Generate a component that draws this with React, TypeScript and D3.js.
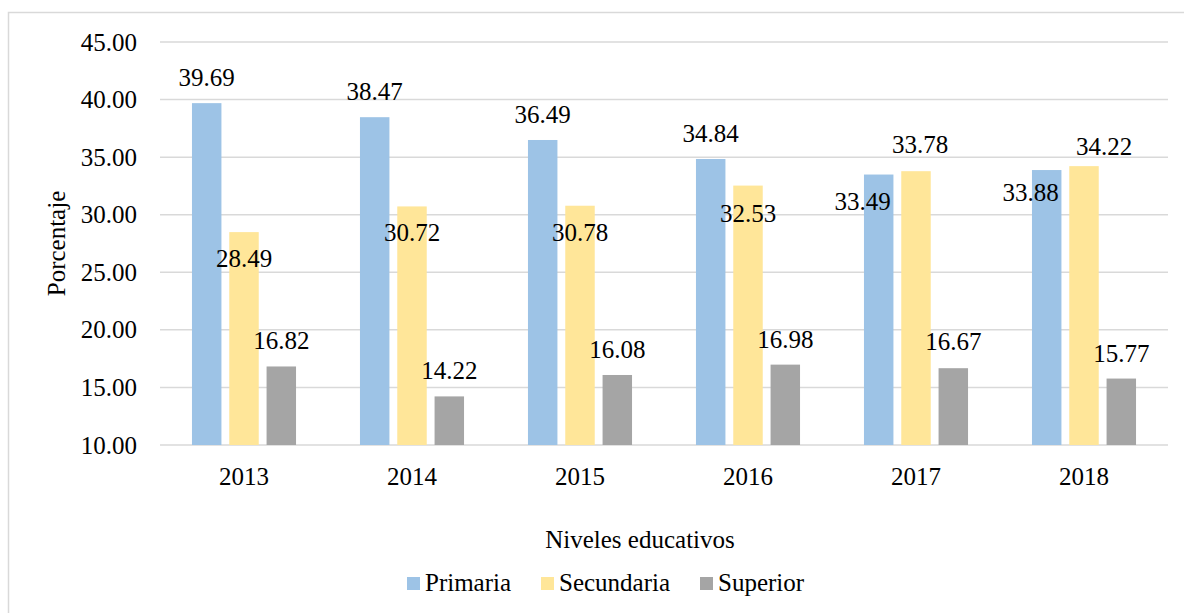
import * as d3 from 'd3';

const years = ['2013', '2014', '2015', '2016', '2017', '2018'];
const seriesNames = ['Primaria', 'Secundaria', 'Superior'];
const primaria = [39.69, 38.47, 36.49, 34.84, 33.49, 33.88];
const secundaria = [28.49, 30.72, 30.78, 32.53, 33.78, 34.22];
const superior = [16.82, 14.22, 16.08, 16.98, 16.67, 15.77];
const yTicks = [10, 15, 20, 25, 30, 35, 40, 45];

const colors = ['#9dc3e6', '#ffe699', '#a5a5a5'];

// label nudges (dx, dy from the bar top centre), placed by hand like the original
const labelNudge = [
  [[0, -17], [0, -17], [0, -17], [0, -17], [-16, 35], [-16, 31]],
  [[0, 35], [0, 35], [0, 35], [0, 36], [4, -18], [20, -11]],
  [[0, -17], [0, -17], [0, -17], [0, -17], [0, -18], [0, -17]],
];

export default function App() {
  const width = 1184;
  const height = 613;
  const margin = { top: 42, right: 16, bottom: 168, left: 160 };
  const font = "'Liberation Serif', 'Times New Roman', 'DejaVu Serif', serif";
  const data = [primaria, secundaria, superior];

  const x = d3.scaleBand().domain(years).range([margin.left, width - margin.right]);
  const xs = d3
    .scaleBand()
    .domain(seriesNames)
    .range([0, x.bandwidth()])
    .paddingInner(0.21)
    .paddingOuter(0.857);
  const y = d3
    .scaleLinear()
    .domain([10, 45])
    .range([height - margin.bottom, margin.top]);

  const legendX = [407, 541, 700];

  return (
    <svg
      width={width}
      height={height}
      style={{ position: 'absolute', left: 0, top: 0, background: '#fff', fontFamily: font }}
    >
      <rect x={8.5} y={12.5} width={1300} height={800} fill="#fff" stroke="#d9d9d9" strokeWidth={1.5} />

      {yTicks.map((t) => (
        <g key={t}>
          <line
            x1={margin.left}
            x2={width - margin.right}
            y1={y(t)}
            y2={y(t)}
            stroke="#d9d9d9"
            strokeWidth={1.5}
          />
          <text x={137} y={y(t)} dy="0.34em" textAnchor="end" fontSize={25} fill="#000">
            {t.toFixed(2)}
          </text>
        </g>
      ))}

      {data.map((vals, si) =>
        vals.map((v, i) => (
          <rect
            key={`${si}-${i}`}
            x={(x(years[i]) ?? 0) + (xs(seriesNames[si]) ?? 0)}
            y={y(v)}
            width={xs.bandwidth()}
            height={y(10) - y(v)}
            fill={colors[si]}
          />
        ))
      )}

      {data.map((vals, si) =>
        vals.map((v, i) => {
          const cx = (x(years[i]) ?? 0) + (xs(seriesNames[si]) ?? 0) + xs.bandwidth() / 2;
          const [dx, dy] = labelNudge[si][i];
          return (
            <text
              key={`l${si}-${i}`}
              x={cx + dx}
              y={y(v) + dy}
              textAnchor="middle"
              fontSize={25}
              fill="#000"
            >
              {v.toFixed(2)}
            </text>
          );
        })
      )}

      {years.map((yr) => (
        <text
          key={yr}
          x={(x(yr) ?? 0) + x.bandwidth() / 2}
          y={485}
          textAnchor="middle"
          fontSize={25}
          fill="#000"
        >
          {yr}
        </text>
      ))}

      <text
        transform={`translate(65, ${(y(10) + y(45)) / 2}) rotate(-90)`}
        textAnchor="middle"
        fontSize={25}
        fill="#000"
      >
        Porcentaje
      </text>

      <text x={640} y={548} textAnchor="middle" fontSize={25} fill="#000">
        Niveles educativos
      </text>

      {seriesNames.map((name, si) => (
        <g key={name}>
          <rect x={legendX[si]} y={577} width={13} height={13} fill={colors[si]} />
          <text x={legendX[si] + 18} y={591} fontSize={25} fill="#000">
            {name}
          </text>
        </g>
      ))}
    </svg>
  );
}
